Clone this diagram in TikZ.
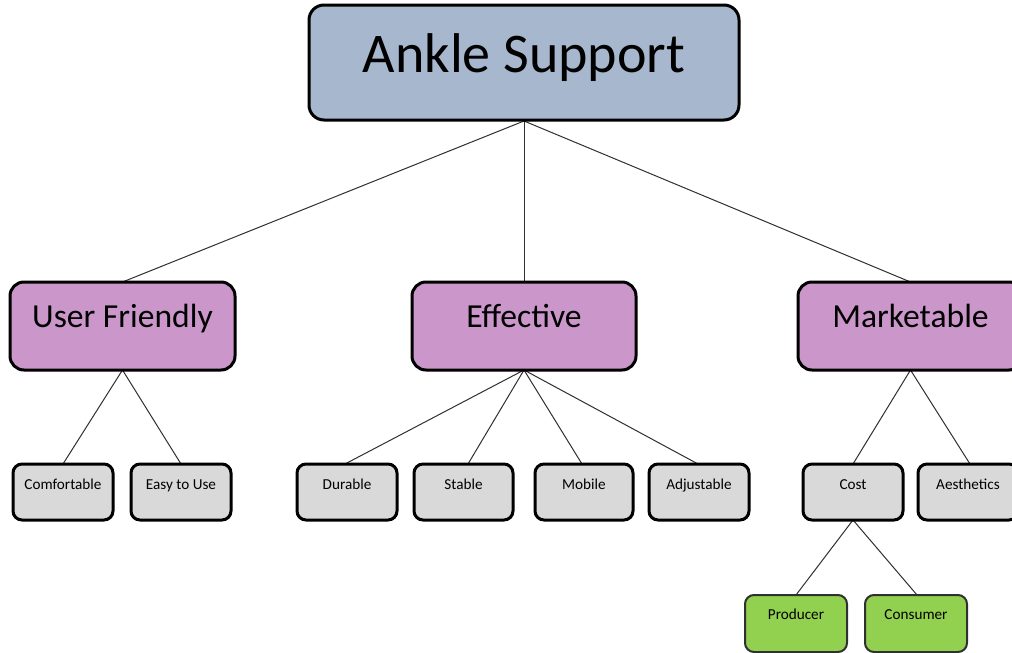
\documentclass[tikz,border=0pt]{standalone}
\usepackage{fontspec}
\setmainfont{Carlito}
\definecolor{topfill}{HTML}{A6B7CE}
\definecolor{midfill}{HTML}{CB97CB}
\definecolor{leaffill}{HTML}{D9D9D9}
\definecolor{greenfill}{HTML}{92D050}
\definecolor{edgecol}{HTML}{303030}
\tikzset{
  topbox/.style={draw=black, line width=3pt, fill=topfill, rounded corners=15pt, inner sep=0pt,
    minimum width=430pt, minimum height=115pt, font=\fontsize{56}{60}\selectfont,
    text height=40pt, text depth=21pt},
  midbox/.style={draw=black, line width=3pt, fill=midfill, rounded corners=14pt, inner sep=0pt,
    minimum width=225pt, minimum height=88pt, font=\fontsize{33.6}{38}\selectfont,
    text height=24pt, text depth=22pt},
  leafbox/.style={draw=black, line width=3pt, fill=leaffill, rounded corners=9pt, inner sep=0pt,
    minimum width=100pt, minimum height=56pt, font=\fontsize{15.2}{18}\selectfont,
    text height=10pt, text depth=16pt},
  greenbox/.style={draw=edgecol, line width=2pt, fill=greenfill, rounded corners=9pt, inner sep=0pt,
    minimum width=102pt, minimum height=57pt, font=\fontsize{15.2}{18}\selectfont,
    text height=10pt, text depth=19pt},
  link/.style={draw=edgecol, line width=1pt}
}
\begin{document}
\begin{tikzpicture}[x=1pt,y=-1pt]
\useasboundingbox (0,0) rectangle (1012,653);
\clip (0,0) rectangle (1012,653);
\fill[white] (0,0) rectangle (1012,653);
% connectors first
\coordinate (asb) at (524,121);
\coordinate (ufb) at (122.5,370);
\coordinate (efb) at (524,370);
\coordinate (mkb) at (910.5,370);
\coordinate (csb) at (853,520);
\coordinate (uft) at (122.5,282);
\coordinate (eft) at (524,282);
\coordinate (mkt) at (910.5,282);
\draw[link] (asb) -- (uft);
\draw[link] (asb) -- (eft);
\draw[link] (asb) -- (mkt);
\coordinate (cot) at (63,464);
\coordinate (eut) at (181,464);
\coordinate (dut) at (345,464);
\coordinate (stt) at (468,464);
\coordinate (mot) at (582,464);
\coordinate (adt) at (698,464);
\coordinate (cst) at (853,464);
\coordinate (aet) at (970,464);
\coordinate (prt) at (796,595);
\coordinate (cnt) at (917,595);
\draw[link] (ufb) -- (cot);
\draw[link] (ufb) -- (eut);
\draw[link] (efb) -- (dut);
\draw[link] (efb) -- (stt);
\draw[link] (efb) -- (mot);
\draw[link] (efb) -- (adt);
\draw[link] (mkb) -- (cst);
\draw[link] (mkb) -- (aet);
\draw[link] (csb) -- (prt);
\draw[link] (csb) -- (cnt);
% nodes
\node[topbox] (as) at (524,62.5) {Ankle Support};
\node[midbox] (uf) at (122.5,326) {User Friendly};
\node[midbox, minimum width=224pt] (ef) at (524,326) {Effective};
\node[midbox] (mk) at (910.5,326) {Marketable};
\node[leafbox] (co) at (63,492) {Comfortable};
\node[leafbox] (eu) at (181,492) {Easy to Use};
\node[leafbox] (du) at (347,492) {Durable};
\node[leafbox, minimum width=99pt] (st) at (463.5,492) {Stable};
\node[leafbox, minimum width=98pt] (mo) at (584,492) {Mobile};
\node[leafbox] (ad) at (699,492) {Adjustable};
\node[leafbox] (cs) at (853,492) {Cost};
\node[leafbox] (ae) at (968,492) {Aesthetics};
\node[greenbox] (pr) at (796,623.5) {Producer};
\node[greenbox] (cn) at (916,623.5) {Consumer};
\end{tikzpicture}
\end{document}
